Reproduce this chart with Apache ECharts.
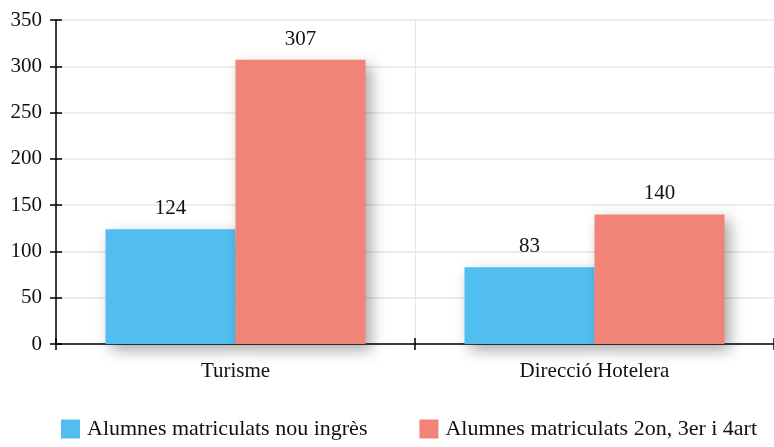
<!DOCTYPE html>
<html><head><meta charset="utf-8">
<script src="https://cdn.jsdelivr.net/npm/echarts@6/dist/echarts.min.js"></script>
<style>html,body{margin:0;padding:0;background:#fff}#c{width:774px;height:447px}</style>
</head><body><div id="c"></div>
<script>
var categories = ['Turisme', 'Direcció Hotelera'];
var seriesNames = ['Alumnes matriculats nou ingrès', 'Alumnes matriculats 2on, 3er i 4art'];
var newStudents = [124, 83];
var otherStudents = [307, 140];
var yTicks = {min: 0, max: 350, interval: 50};

var FONT = 'Liberation Serif';
var chart = echarts.init(document.getElementById('c'));
var shadow = {shadowBlur: 14, shadowOffsetX: 5, shadowOffsetY: 6, shadowColor: 'rgba(0,0,0,0.35)'};
var label = {show: true, position: 'top', distance: 10, color: '#111', fontFamily: FONT, fontSize: 21};
chart.setOption({
  animation: false,
  textStyle: {fontFamily: FONT},
  grid: {left: 56, right: 0, top: 20, bottom: 103},
  legend: {
    bottom: 2, left: 56, itemWidth: 19, itemHeight: 19, itemGap: 52,
    icon: 'rect',
    textStyle: {fontFamily: FONT, fontSize: 22, color: '#111', padding: [0, 0, 0, 2]},
    data: seriesNames
  },
  xAxis: [{
    type: 'category', data: categories,
    axisLine: {lineStyle: {color: '#000', width: 1.5}},
    axisTick: {show: true, length: 6, lineStyle: {color: '#000', width: 1.5}},
    axisLabel: {color: '#111', fontSize: 21, fontFamily: FONT, margin: 17},
    splitLine: {show: true, lineStyle: {color: '#e6e6e6'}}
  }, {
    type: 'category', data: categories, position: 'bottom',
    axisLine: {show: false},
    axisTick: {show: true, inside: true, length: 6, lineStyle: {color: '#000', width: 1.5}},
    axisLabel: {show: false}
  }],
  yAxis: [{
    type: 'value', min: yTicks.min, max: yTicks.max, interval: yTicks.interval,
    axisLine: {show: true, lineStyle: {color: '#000', width: 1.5}},
    axisTick: {show: true, length: 6, lineStyle: {color: '#000', width: 1.5}},
    axisLabel: {color: '#111', fontSize: 21, fontFamily: FONT, margin: 14},
    splitLine: {show: true, lineStyle: {color: '#e6e6e6', width: 1.5}}
  }, {
    type: 'value', min: yTicks.min, max: yTicks.max, interval: yTicks.interval, position: 'left',
    axisLine: {show: false},
    axisTick: {show: true, inside: true, length: 6, lineStyle: {color: '#000', width: 1.5}},
    axisLabel: {show: false},
    splitLine: {show: false}
  }],
  series: [{
    name: seriesNames[0], type: 'bar', data: newStudents, barWidth: 130, barGap: '0%',
    itemStyle: Object.assign({color: '#52BEEF'}, shadow), label: label
  }, {
    name: seriesNames[1], type: 'bar', data: otherStudents, barWidth: 130, barGap: '0%',
    itemStyle: Object.assign({color: '#F08577'}, shadow), label: label
  }]
});
</script></body></html>
